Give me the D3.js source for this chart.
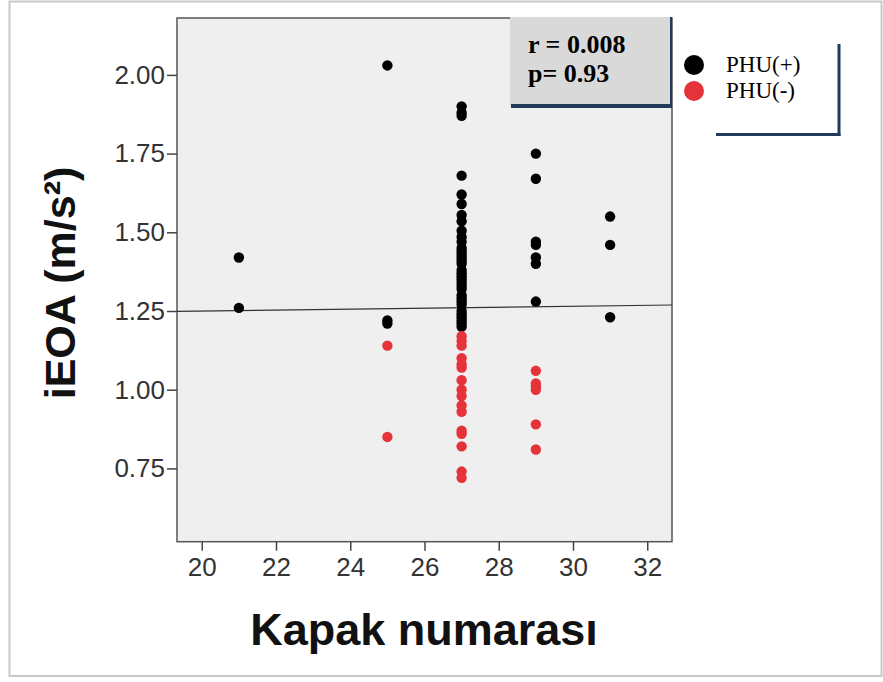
<!DOCTYPE html>
<html>
<head>
<meta charset="utf-8">
<script src="https://cdn.jsdelivr.net/npm/d3@7"></script>
<style>
  html, body { margin: 0; padding: 0; background: #fff; }
  svg { display: block; }
</style>
</head>
<body>
<svg id="chart" width="883" height="682"></svg>
<script>
// ---- data ----
const xTicks = [20, 22, 24, 26, 28, 30, 32];
const yTicks = [0.75, 1.00, 1.25, 1.50, 1.75, 2.00];

const blackX = [21, 21,
  25, 25, 25,
  27, 27, 27, 27, 27, 27, 27, 27, 27, 27, 27, 27, 27, 27, 27, 27, 27, 27, 27, 27, 27, 27, 27, 27, 27, 27, 27, 27, 27, 27, 27, 27, 27, 27,
  29, 29, 29, 29, 29, 29, 29,
  31, 31, 31];
const blackY = [1.42, 1.26,
  2.03, 1.22, 1.21,
  1.90, 1.88, 1.87, 1.68, 1.62, 1.59, 1.555, 1.535, 1.505, 1.485, 1.47, 1.45, 1.44, 1.43, 1.42, 1.41, 1.40, 1.38, 1.37, 1.36, 1.35, 1.34, 1.33, 1.32, 1.30, 1.29, 1.28, 1.27, 1.25, 1.24, 1.23, 1.22, 1.21, 1.20,
  1.75, 1.67, 1.47, 1.46, 1.42, 1.40, 1.28,
  1.55, 1.46, 1.23];

const redX = [25, 25,
  27, 27, 27, 27, 27, 27, 27, 27, 27, 27, 27, 27, 27, 27, 27, 27,
  29, 29, 29, 29, 29, 29];
const redY = [1.14, 0.85,
  1.17, 1.155, 1.14, 1.10, 1.08, 1.07, 1.03, 1.00, 0.98, 0.95, 0.93, 0.87, 0.86, 0.82, 0.74, 0.72,
  1.06, 1.02, 1.01, 1.00, 0.89, 0.81];

const fitX = [19.333, 32.667];
const fitY = [1.249, 1.269];

const legendLabels = ["PHU(+)", "PHU(-)"];
const legendColors = ["#000000", "#e6333a"];
const statLines = ["r = 0.008", "p= 0.93"];

// ---- layout ----
const svg = d3.select("#chart");
const plot = { left: 177, top: 18, right: 672, bottom: 541.7 };

const x = d3.scaleLinear().domain([19.333, 32.667]).range([plot.left, plot.right]);
const y = d3.scaleLinear().domain([0.5172, 2.1807]).range([plot.bottom, plot.top]);

// outer frame
svg.append("rect")
  .attr("x", 9.5).attr("y", 1.5).attr("width", 872).attr("height", 674.5)
  .attr("fill", "none").attr("stroke", "#c8c8c8").attr("stroke-width", 2);

// plot background
svg.append("rect")
  .attr("x", plot.left).attr("y", plot.top)
  .attr("width", plot.right - plot.left).attr("height", plot.bottom - plot.top)
  .attr("fill", "#efefef").attr("stroke", "#555").attr("stroke-width", 1.5);

// axes
const xAxis = svg.append("g")
  .attr("transform", `translate(0,${plot.bottom})`)
  .call(d3.axisBottom(x).tickValues(xTicks).tickSize(9).tickPadding(7).tickFormat(d3.format("d")));
const yAxis = svg.append("g")
  .attr("transform", `translate(${plot.left},0)`)
  .call(d3.axisLeft(y).tickValues(yTicks).tickSize(10).tickPadding(2).tickFormat(d3.format(".2f")));

[xAxis, yAxis].forEach(g => {
  g.select(".domain").remove();
  g.selectAll(".tick line").attr("stroke", "#444").attr("stroke-width", 1.5);
  g.selectAll(".tick text")
    .attr("fill", "#333")
    .style("font-family", "Arial, 'Liberation Sans', sans-serif")
    .style("font-size", "26px");
});

// regression line
svg.append("line")
  .attr("x1", x(fitX[0])).attr("y1", y(fitY[0]))
  .attr("x2", x(fitX[1])).attr("y2", y(fitY[1]))
  .attr("stroke", "#333").attr("stroke-width", 1.2);

// points
const pts = [];
blackX.forEach((v, i) => pts.push({ x: v, y: blackY[i], c: legendColors[0] }));
redX.forEach((v, i) => pts.push({ x: v, y: redY[i], c: legendColors[1] }));

svg.append("g").selectAll("circle").data(pts).join("circle")
  .attr("cx", d => x(d.x)).attr("cy", d => y(d.y))
  .attr("r", 5.2).attr("fill", d => d.c);

// stats box
const box = { x: 510, y: 17, w: 162, h: 89 };
svg.append("rect")
  .attr("x", box.x).attr("y", box.y).attr("width", box.w).attr("height", box.h)
  .attr("fill", "#d9d9d9");
svg.append("line")
  .attr("x1", box.x + 1).attr("y1", box.y + box.h).attr("x2", box.x + box.w).attr("y2", box.y + box.h)
  .attr("stroke", "#203a5c").attr("stroke-width", 4);
svg.append("line")
  .attr("x1", box.x + box.w - 1).attr("y1", box.y).attr("x2", box.x + box.w - 1).attr("y2", box.y + box.h + 2)
  .attr("stroke", "#203a5c").attr("stroke-width", 2);
svg.append("g").selectAll("text").data(statLines).join("text")
  .attr("x", 528).attr("y", (d, i) => 53 + i * 29)
  .style("font-family", "'Liberation Serif', 'Times New Roman', serif")
  .style("font-weight", "bold").style("font-size", "26px")
  .attr("fill", "#000")
  .text(d => d);

// legend
const lg = svg.append("g");
legendLabels.forEach((lab, i) => {
  lg.append("circle").attr("cx", 694).attr("cy", 65 + i * 26).attr("r", 10).attr("fill", legendColors[i]);
  lg.append("text").attr("x", 726).attr("y", 72 + i * 26)
    .style("font-family", "'Liberation Serif', 'Times New Roman', serif")
    .style("font-size", "23px").attr("fill", "#000").text(lab);
});
lg.append("line").attr("x1", 839).attr("y1", 44).attr("x2", 839).attr("y2", 136)
  .attr("stroke", "#203a5c").attr("stroke-width", 3);
lg.append("line").attr("x1", 716).attr("y1", 134.5).attr("x2", 840.5).attr("y2", 134.5)
  .attr("stroke", "#203a5c").attr("stroke-width", 3);

// axis titles
svg.append("text")
  .attr("x", 424).attr("y", 645)
  .attr("text-anchor", "middle")
  .style("font-family", "Arial, 'Liberation Sans', sans-serif")
  .style("font-weight", "bold").style("font-size", "45px")
  .attr("fill", "#111")
  .text("Kapak numarası");
svg.append("text")
  .attr("transform", "translate(75,283) rotate(-90)")
  .attr("text-anchor", "middle")
  .style("font-family", "Arial, 'Liberation Sans', sans-serif")
  .style("font-weight", "bold").style("font-size", "43px")
  .attr("fill", "#111")
  .text("iEOA (m/s²)");
</script>
</body>
</html>
